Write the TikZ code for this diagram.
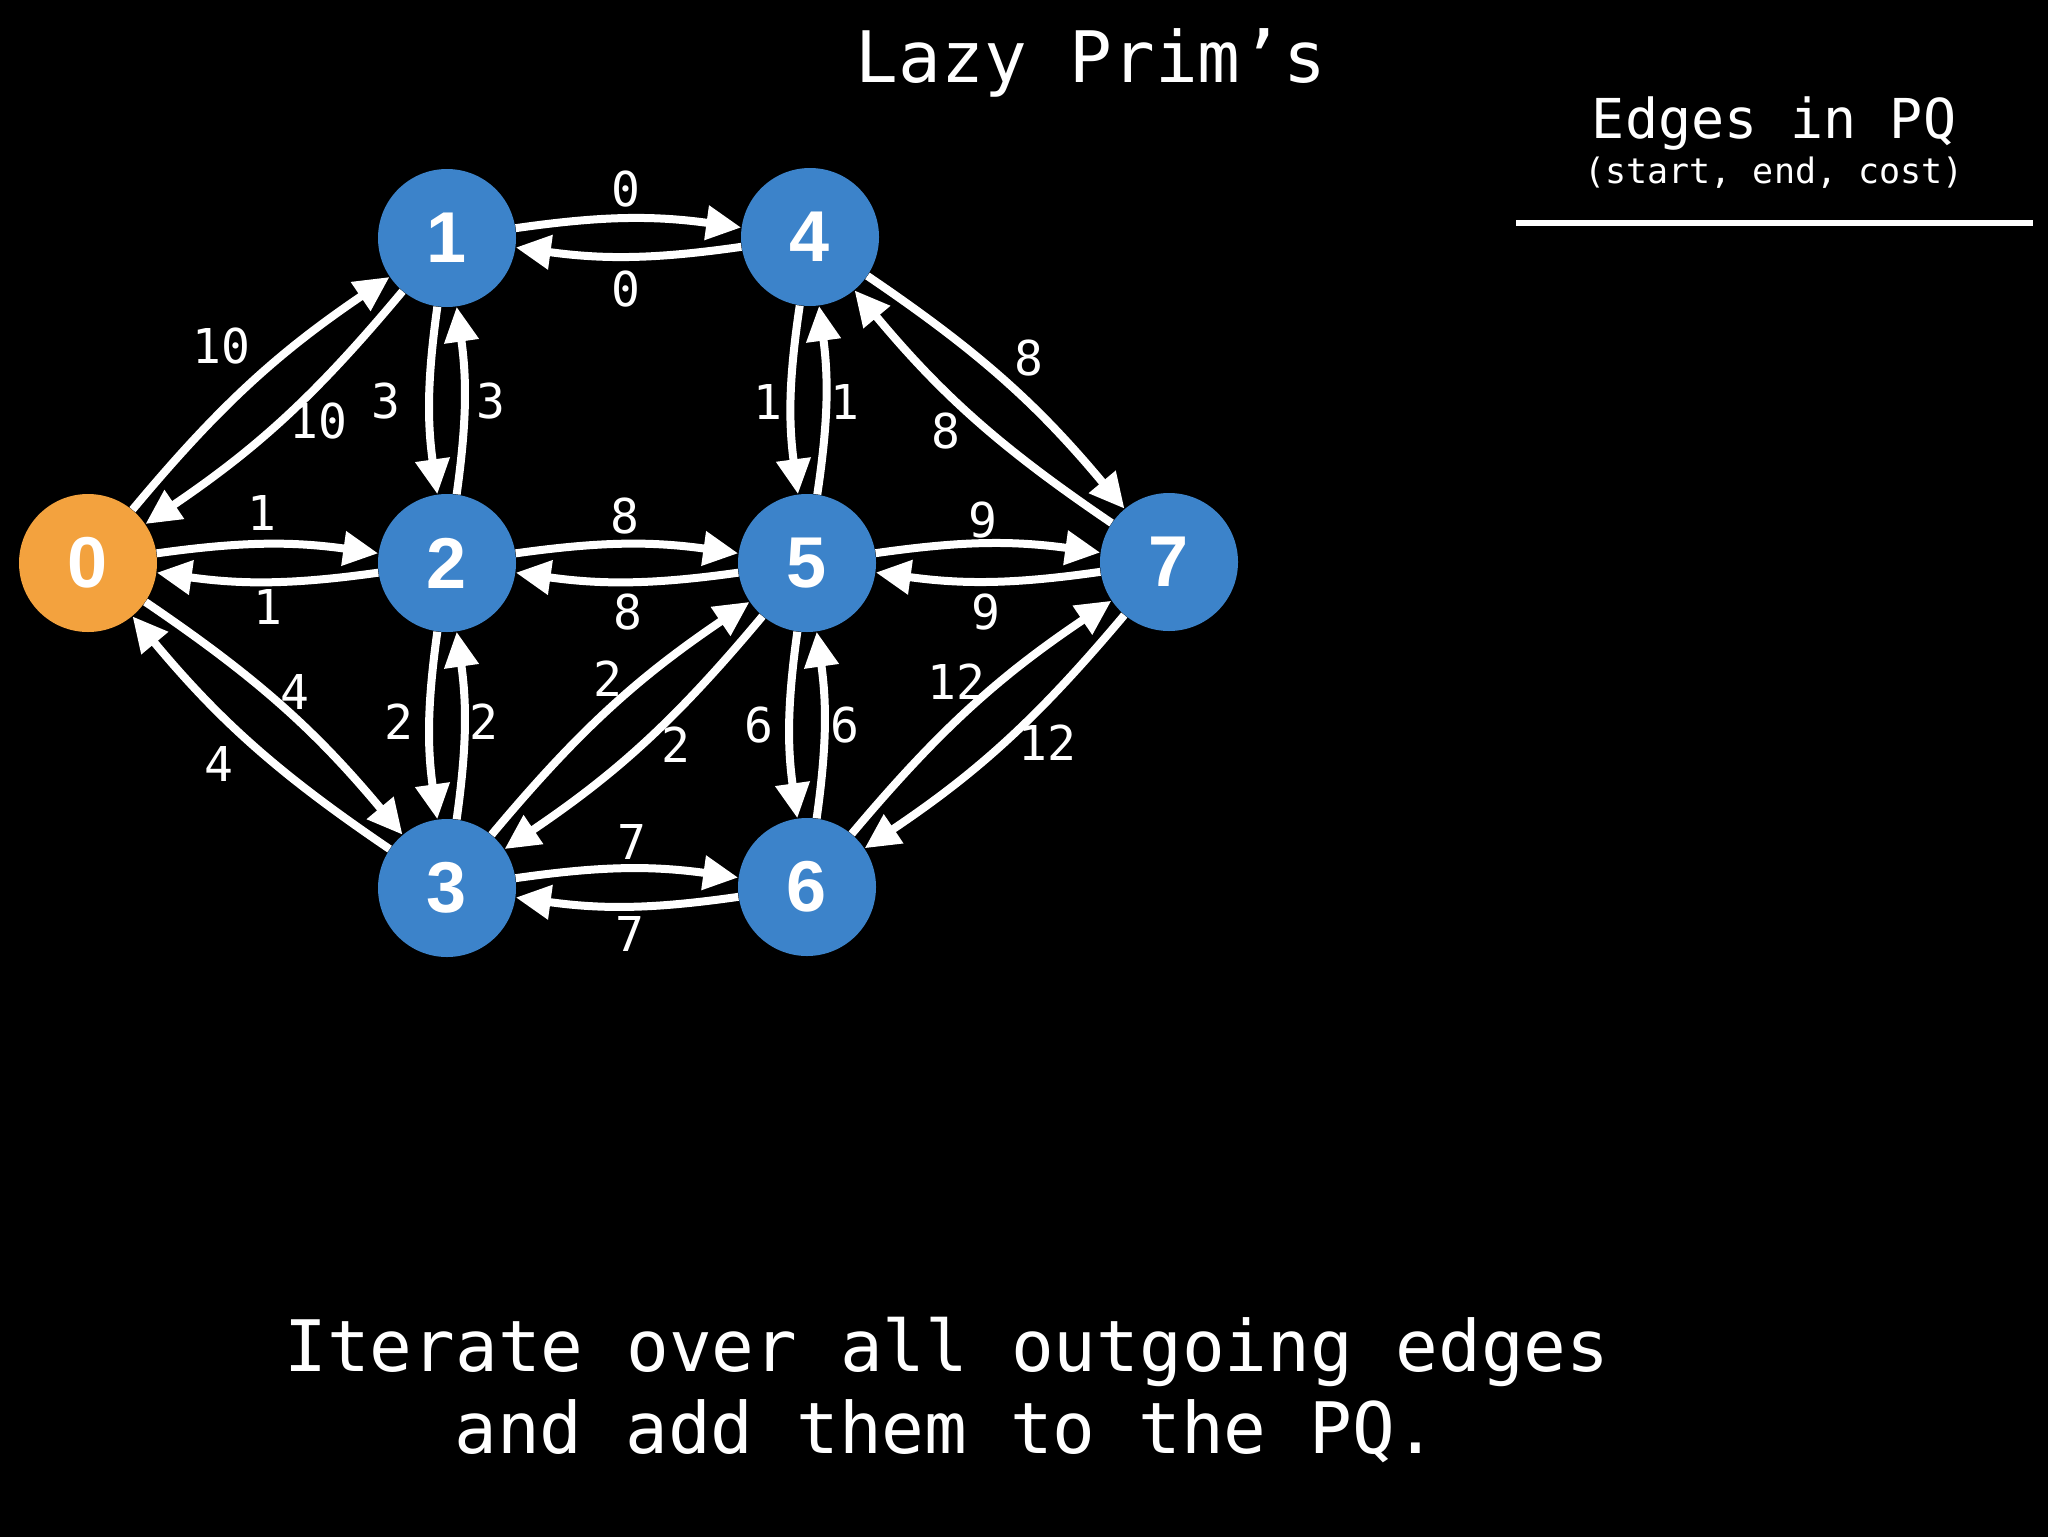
\documentclass[tikz,border=0pt]{standalone}
\usepackage{fontspec}
\usetikzlibrary{arrows.meta}
\newfontfamily\monofam{DejaVu Sans Mono}
\newfontfamily\numfam{Liberation Sans}
\definecolor{nodeblue}{RGB}{60,131,202}
\definecolor{nodeorange}{RGB}{243,162,62}
\tikzset{
  vertex/.style={circle, fill=nodeblue, draw=none, minimum size=69pt, inner sep=0pt,
    text=white, font=\numfam\bfseries\fontsize{36}{40}\selectfont},
  startvertex/.style={vertex, fill=nodeorange},
  edge/.style={draw=white, line width=4pt, -{Triangle[length=17.5pt,width=16.5pt]}},
  hedge/.style={edge, bend left=8},
  vedge/.style={edge, bend right=8},
  wlabel/.style={text=white, inner sep=0pt, font=\monofam\fontsize{24}{28}\selectfont},
  bigtext/.style={text=white, inner sep=0pt, anchor=base, font=\monofam\fontsize{35.5}{41}\selectfont},
}
\begin{document}
\begin{tikzpicture}[x=0.5pt, y=-0.5pt]
\path[use as bounding box] (0,0) rectangle (2048,1536);
\fill[black] (-10,-10) rectangle (2058,1546);

% title
\node[bigtext] (title) at (1091,83) {Lazy Prim’s};

% PQ header
\node[text=white, inner sep=0pt, anchor=base, font=\monofam\fontsize{27.5}{32}\selectfont] (pqhead) at (1774,139) {Edges in PQ};
\node[text=white, inner sep=0pt, anchor=base, font=\monofam\fontsize{17.5}{21}\selectfont] (pqsub) at (1774,183) {(start, end, cost)};
\coordinate (lineL) at (1516,223);
\coordinate (lineR) at (2033,223);
\draw[white, line width=3pt] (lineL) -- (lineR);

% nodes
\node[startvertex] (n0) at (88,563) {0};
\node[vertex] (n1) at (447,238) {1};
\node[vertex] (n2) at (447,563) {2};
\node[vertex] (n3) at (447,888) {3};
\node[vertex] (n4) at (810,237) {4};
\node[vertex] (n5) at (807,563) {5};
\node[vertex] (n6) at (807,887) {6};
\node[vertex] (n7) at (1169,562) {7};

% edges
\draw[hedge] (n0) to (n1);
\draw[hedge] (n1) to (n0);
\draw[hedge] (n0) to (n2);
\draw[hedge] (n2) to (n0);
\draw[hedge] (n0) to (n3);
\draw[hedge] (n3) to (n0);
\draw[vedge] (n1) to (n2);
\draw[vedge] (n2) to (n1);
\draw[hedge] (n1) to (n4);
\draw[hedge] (n4) to (n1);
\draw[vedge] (n2) to (n3);
\draw[vedge] (n3) to (n2);
\draw[hedge] (n2) to (n5);
\draw[hedge] (n5) to (n2);
\draw[hedge] (n3) to (n5);
\draw[hedge] (n5) to (n3);
\draw[hedge] (n3) to (n6);
\draw[hedge] (n6) to (n3);
\draw[vedge] (n4) to (n5);
\draw[vedge] (n5) to (n4);
\draw[hedge] (n4) to (n7);
\draw[hedge] (n7) to (n4);
\draw[hedge] (n5) to (n7);
\draw[hedge] (n7) to (n5);
\draw[vedge] (n5) to (n6);
\draw[vedge] (n6) to (n5);
\draw[hedge] (n6) to (n7);
\draw[hedge] (n7) to (n6);

% edge labels
\node[wlabel] (l01) at (221,346) {10};
\node[wlabel] (l10) at (318,421) {10};
\node[wlabel] (l02) at (262,513) {1};
\node[wlabel] (l20) at (268,607) {1};
\node[wlabel] (l03) at (295,692) {4};
\node[wlabel] (l30) at (219,764) {4};
\node[wlabel] (l12) at (386,401) {3};
\node[wlabel] (l21) at (491,401) {3};
\node[wlabel] (l14) at (626,189) {0};
\node[wlabel] (l41) at (626,289) {0};
\node[wlabel] (l23) at (399,722) {2};
\node[wlabel] (l32) at (484,722) {2};
\node[wlabel] (l25) at (625,516) {8};
\node[wlabel] (l52) at (628,612) {8};
\node[wlabel] (l35) at (608,679) {2};
\node[wlabel] (l53) at (676,745) {2};
\node[wlabel] (l36) at (632,842) {7};
\node[wlabel] (l63) at (630,934) {7};
\node[wlabel] (l45) at (768,402) {1};
\node[wlabel] (l54) at (845,402) {1};
\node[wlabel] (l47) at (1029,358) {8};
\node[wlabel] (l74) at (946,431) {8};
\node[wlabel] (l57) at (983,520) {9};
\node[wlabel] (l75) at (986,612) {9};
\node[wlabel] (l56) at (759,725) {6};
\node[wlabel] (l65) at (845,725) {6};
\node[wlabel] (l67) at (956,682) {12};
\node[wlabel] (l76) at (1047,743) {12};

% bottom text
\node[bigtext] (msg1) at (947,1371) {Iterate over all outgoing edges};
\node[bigtext] (msg2) at (946,1453) {and add them to the PQ.};
\end{tikzpicture}
\end{document}
